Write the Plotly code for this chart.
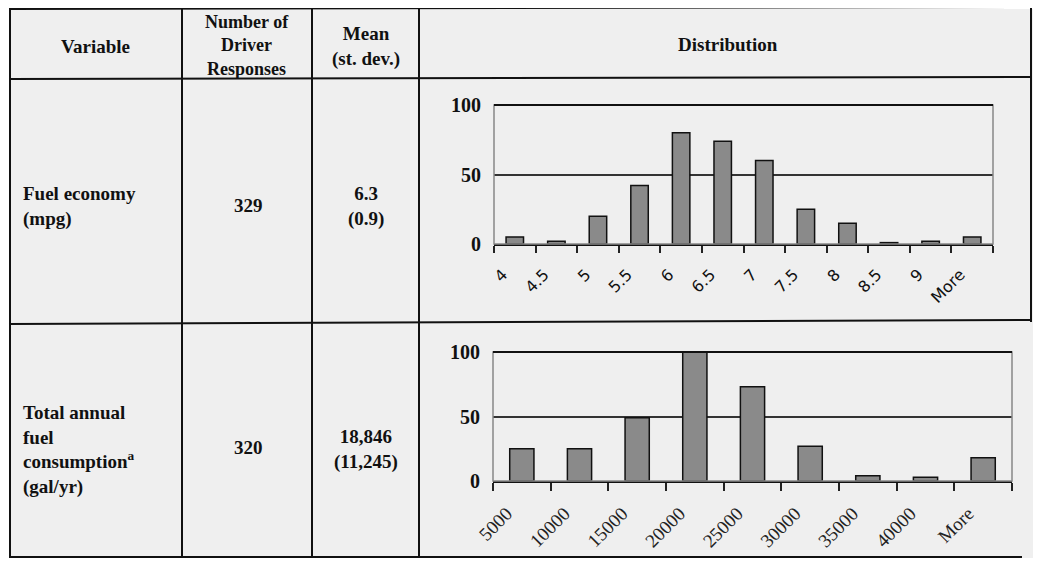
import plotly.graph_objects as go

# ---- data ----
mpg_bins = ["4", "4.5", "5", "5.5", "6", "6.5", "7", "7.5", "8", "8.5", "9", "More"]
mpg_counts = [5, 2, 20, 42, 80, 74, 60, 25, 15, 1, 2, 5]
gal_bins = ["5000", "10000", "15000", "20000", "25000", "30000", "35000", "40000", "More"]
gal_counts = [25, 25, 49, 100, 73, 27, 4, 3, 18]

header = ["Variable", "Number of<br>Driver<br>Responses", "Mean<br>(st. dev.)", "Distribution"]
row_vars = ["Fuel economy<br>(mpg)", "Total annual<br>fuel<br>consumption<sup>a</sup><br>(gal/yr)"]
row_n = ["329", "320"]
row_mean = ["6.3<br>(0.9)", "18,846<br>(11,245)"]

# page body keeps its default 8px margin, so the figure is sized to fit the window
OFF = 8
W, H = 1041 - 2 * OFF, 567 - 2 * OFF
def fx(px): return (px - OFF) / W
def fy(py): return 1 - (py - OFF) / H

SERIF = "Liberation Serif, Times New Roman, serif"
SANS = "DejaVu Sans, sans-serif"
BAR_FILL = "#8a8a8a"
PLOT_BG = "#d5d5d5"

fig = go.Figure()
fig.add_trace(go.Bar(x=mpg_bins, y=mpg_counts, xaxis="x", yaxis="y",
                     marker=dict(color=BAR_FILL, line=dict(color="#111", width=1.5)),
                     showlegend=False))
fig.add_trace(go.Bar(x=gal_bins, y=gal_counts, xaxis="x2", yaxis="y2",
                     marker=dict(color=BAR_FILL, line=dict(color="#111", width=1.5)),
                     showlegend=False))

xcommon = dict(type="category", showgrid=False, ticks="outside", tickson="boundaries",
               tickcolor="#222", tickwidth=1.5, showline=True, linecolor="#111", linewidth=2,
               tickangle=-45, fixedrange=True, automargin=False)
ycommon = dict(range=[0, 100], tickvals=[0, 50, 100], showgrid=True, gridcolor="#333",
               gridwidth=1.5, zeroline=False, showline=False, ticklabelstandoff=12,
               tickfont=dict(family=SERIF, size=20, color="#111", weight="bold"),
               ticks="", fixedrange=True, automargin=False)

fig.update_layout(
    width=W, height=H,
    margin=dict(l=0, r=0, t=0, b=0, pad=0, autoexpand=False),
    paper_bgcolor="#ffffff",
    plot_bgcolor=PLOT_BG,
    bargap=0.58,
    xaxis=dict(domain=[fx(494), fx(993)], anchor="y", ticklen=7,
               ticklabelstandoff=13, ticklabelshift=-12,
               tickfont=dict(family=SANS, size=16, color="#111"), **xcommon),
    yaxis=dict(domain=[fy(244), fy(105)], anchor="x", **ycommon),
    xaxis2=dict(domain=[fx(493), fx(1012)], anchor="y2", ticklen=8,
                ticklabelstandoff=12, ticklabelshift=-15,
                tickfont=dict(family=SERIF, size=19, color="#222"), **xcommon),
    yaxis2=dict(domain=[fy(481), fy(352)], anchor="x2", **ycommon),
)

shapes = []
# table background (scanned paper tone)
shapes.append(dict(type="rect", xref="paper", yref="paper", layer="below",
                   x0=fx(9), x1=fx(1035), y0=fy(558), y1=fy(9),
                   fillcolor="#efefef", line=dict(width=0)))

def line(x0, y0, x1, y1, w=2):
    shapes.append(dict(type="line", xref="paper", yref="paper",
                       x0=fx(x0), y0=fy(y0), x1=fx(x1), y1=fy(y1),
                       line=dict(color="#111", width=w)))

# plot area frames (top edge dark, right edge grey)
for (xl, xr, yt, yb) in [(494, 993, 105, 244), (493, 1012, 352, 481)]:
    shapes.append(dict(type="rect", xref="paper", yref="paper", layer="above",
                       x0=fx(xl), x1=fx(xr), y0=fy(yb), y1=fy(yt),
                       line=dict(color="#888", width=1.5)))
    line(xl, yt, xr, yt, 2)

# table lines
line(9, 9, 1032, 7)
line(9, 79, 1032, 77)
line(9, 324, 1032, 320)
line(9, 557, 1022, 557)
for x in [10, 182, 312, 419]:
    line(x, 9, x, 558)
line(1031, 7, 1031, 322)

fig.update_layout(shapes=shapes)

ann = []
def text(x, y, s, size=19, bold=True, align="center", xanchor="center"):
    ann.append(dict(x=fx(x), y=fy(y), xref="paper", yref="paper", showarrow=False,
                    text=f"<b>{s}</b>" if bold else s, align=align, xanchor=xanchor,
                    yanchor="middle",
                    font=dict(family=SERIF, size=size, color="#111")))

text(95, 46, header[0])
text(247, 45, header[1], size=18)
text(366, 46, header[2])
text(728, 44, header[3])

text(21, 206, row_vars[0], align="left", xanchor="left")
text(248, 205, row_n[0])
text(366, 206, row_mean[0])

text(21, 450, row_vars[1], align="left", xanchor="left")
text(248, 448, row_n[1])
text(366, 449, row_mean[1])

fig.update_layout(annotations=ann)

fig.write_html("out.html", config={"displayModeBar": False})
